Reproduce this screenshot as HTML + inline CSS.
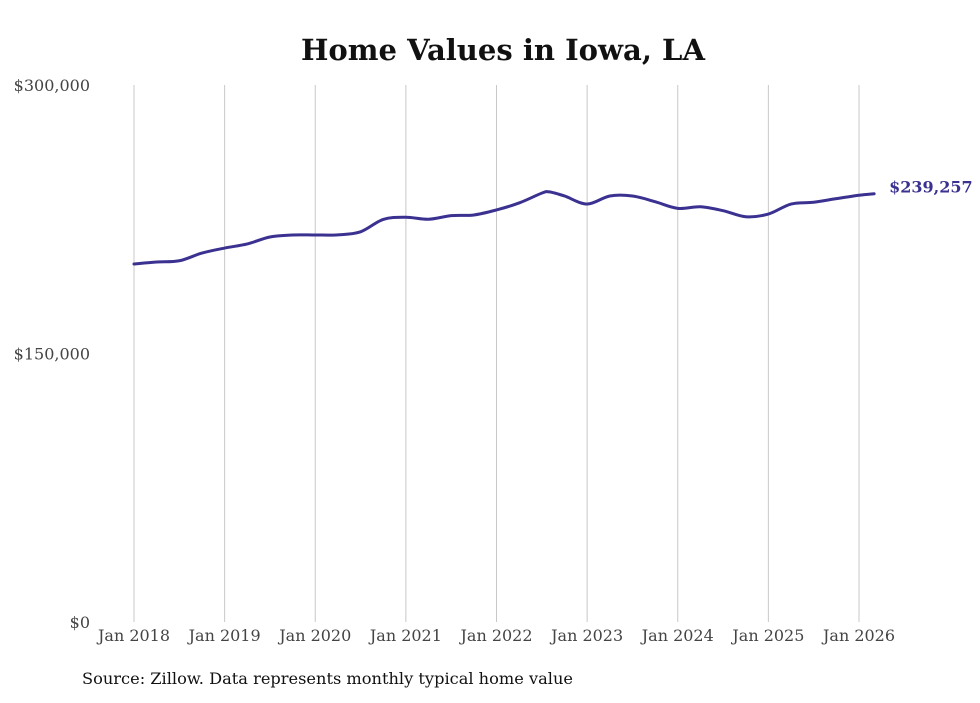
<!DOCTYPE html>
<html><head><meta charset="utf-8">
<style>
body{margin:0;background:#fff;width:980px;height:699px;overflow:hidden;font-family:"DejaVu Serif","Liberation Serif",serif;}
</style></head>
<body>
<svg id="chart" width="980" height="699" xmlns="http://www.w3.org/2000/svg">
<text x="503" y="60" text-anchor="middle" font-size="29" font-weight="bold" fill="#111" textLength="404" lengthAdjust="spacingAndGlyphs">Home Values in Iowa, LA</text>
<g id="grid"></g><g id="yaxis"></g><g id="xaxis"></g><g id="series"></g>
<text x="82" y="684" font-size="16" fill="#111" textLength="491" lengthAdjust="spacingAndGlyphs">Source: Zillow. Data represents monthly typical home value</text>
</svg>
<script>
const monthIdx=[0,3,6,9,12,15,18,21,24,27,30,33,36,39,42,45,48,51,54,55,57,60,63,66,69,72,75,78,81,84,87,90,93,96,98];
const values=[200000,201100,201800,206100,208900,211200,215100,216200,216200,216300,218000,224900,226100,225000,227000,227400,230200,234100,239600,240300,238000,233500,238000,238000,234800,231100,232000,229800,226400,227900,233500,234500,236500,238400,239257];
const yTicks=[0,150000,300000];
const yTickLabels=["$0","$150,000","$300,000"];
const xTickYears=[2018,2019,2020,2021,2022,2023,2024,2025,2026];
const NS="http://www.w3.org/2000/svg";
const x=m=>134+m*(725/96);
const y=v=>622-v*(537/300000);
function mk(tag,attrs,parent,txt){const e=document.createElementNS(NS,tag);for(const k in attrs)e.setAttribute(k,attrs[k]);if(txt!==undefined)e.textContent=txt;parent.appendChild(e);return e;}
const grid=document.getElementById('grid'),xa=document.getElementById('xaxis'),ya=document.getElementById('yaxis'),ser=document.getElementById('series');
xTickYears.forEach((yr,i)=>{
  const m=(yr-2018)*12;
  const l=mk('line',{x1:x(m),x2:x(m),y1:y(300000),y2:y(0),stroke:'#c8c8c8','stroke-width':1},grid);
  
  
  const t=mk('text',{x:x(m),y:641,'text-anchor':'middle','font-size':16,fill:'#444',textLength:72,lengthAdjust:'spacingAndGlyphs'},xa,'Jan '+yr);
  
  
});
yTicks.forEach((v,i)=>{
  const t=mk('text',{x:90,y:y(v)+6,'text-anchor':'end','font-size':16,fill:'#444'},ya,yTickLabels[i]);
  
  
});
const pts=monthIdx.map((m,i)=>[x(m),y(values[i])]);
let d='M'+pts[0][0]+','+pts[0][1];
for(let i=0;i<pts.length-1;i++){
  const p0=pts[i-1]||pts[i],p1=pts[i],p2=pts[i+1],p3=pts[i+2]||p2;
  const c1=[p1[0]+(p2[0]-p0[0])/6,p1[1]+(p2[1]-p0[1])/6];
  const c2=[p2[0]-(p3[0]-p1[0])/6,p2[1]-(p3[1]-p1[1])/6];
  d+=` C${c1[0]},${c1[1]} ${c2[0]},${c2[1]} ${p2[0]},${p2[1]}`;
}
const path=mk('path',{d:d,fill:'none',stroke:'#3b3190','stroke-width':3,'stroke-linejoin':'round','stroke-linecap':'round'},ser);


const last=pts[pts.length-1];
const lbl=mk('text',{x:last[0]+15,y:last[1]-1,'font-size':16,'font-weight':'bold',fill:'#3b3190'},ser,'$'+values[values.length-1].toLocaleString('en-US'));


</script>
</body></html>
